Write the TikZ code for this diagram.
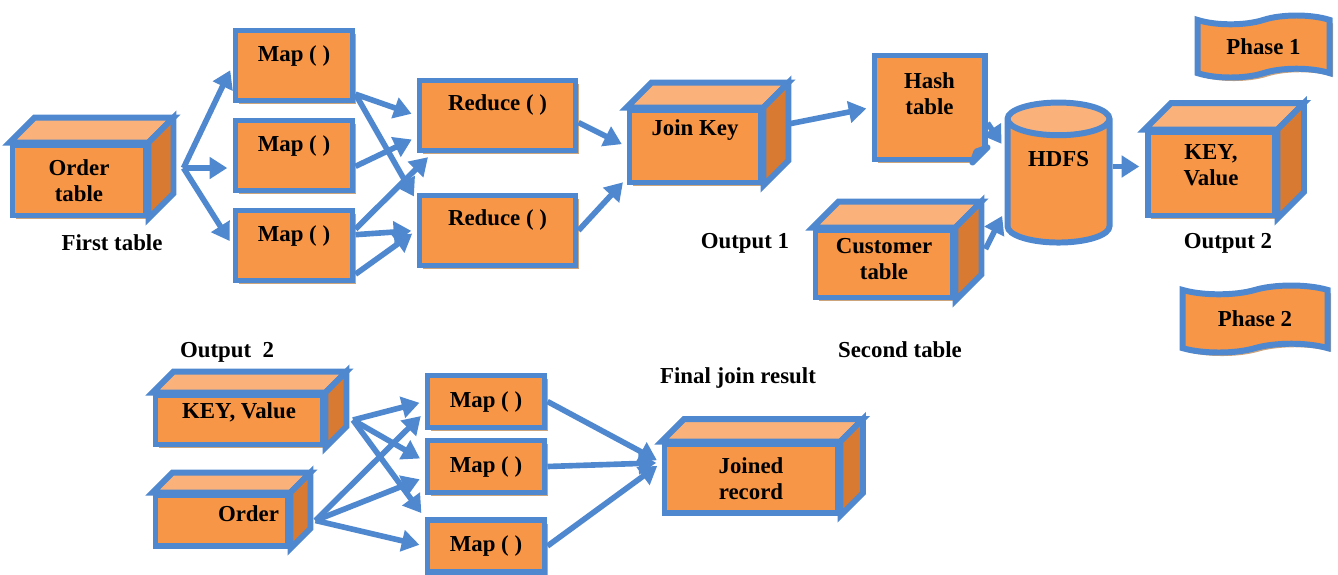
\documentclass[tikz,border=0pt]{standalone}
\usepackage{fontspec}
\setmainfont{Liberation Serif}
\usepackage{xcolor}
\usepackage{tikz}
\usetikzlibrary{shapes.geometric, shapes.symbols, arrows.meta, shadows}
\definecolor{org}{RGB}{247,150,70}
\definecolor{orgl}{RGB}{250,178,122}
\definecolor{orgd}{RGB}{216,122,50}
\definecolor{bord}{RGB}{79,136,206}
\definecolor{shd}{RGB}{205,165,125}
\newcommand{\bx}{\bfseries\fontsize{13}{14.5}\selectfont}
\tikzstyle{box} = [rectangle, inner sep=0pt, align=center, draw=bord, line width=3.4pt, fill=org, font=\bx, drop shadow={shadow xshift=2pt, shadow yshift=-2pt, fill=shd, opacity=1}]
\tikzstyle{mapbox} = [box, minimum width=2.34cm, minimum height=1.4cm, text depth=0.48cm]
\tikzstyle{redbox} = [box, minimum width=3.12cm, minimum height=1.4cm, text depth=0.5cm]
\tikzstyle{smallmap} = [box, minimum width=2.34cm, minimum height=1.04cm]
\tikzstyle{db} = [cylinder, shape border rotate=90, aspect=0.45, draw=bord, line width=3.4pt, cylinder uses custom fill, cylinder body fill=org, cylinder end fill=orgl, font=\bx]
\tikzstyle{flag} = [tape, tape bend top=in and out, tape bend bottom=in and out, draw=bord, line width=3.4pt, fill=org, font=\bx, drop shadow={shadow xshift=2pt, shadow yshift=-2pt, fill=shd, opacity=1}]
\tikzstyle{topface} = [draw=bord, line width=3.4pt, fill=orgl]
\tikzstyle{sideface} = [draw=bord, line width=3.4pt, fill=orgd]
\tikzstyle{lbl} = [font=\bx, inner sep=0pt]
\tikzstyle{arrow} = [line width=3.2pt, draw=bord, shorten >=3pt, -{Triangle[length=10pt,width=12pt]}]

\begin{document}
\begin{tikzpicture}[node distance=1.8cm]
\useasboundingbox (0,0) rectangle (26.76,-11.48);

% first phase
\node (ord) [box, minimum width=2.66cm, minimum height=1.4cm] at (1.58,-3.61) {Order\\table};
\node (ft) [lbl] at (2.24,-4.86) {First table};

\node (m1) [mapbox] at (5.88,-1.31) {Map ( )};
\node (m2) [mapbox, below of=m1] {Map ( )};
\node (m3) [mapbox, below of=m2] {Map ( )};

\node (r1) [redbox] at (9.95,-2.31) {Reduce ( )};
\node (r2) [redbox, below of=r1, node distance=2.3cm] {Reduce ( )};

\node (jk) [box, minimum width=2.62cm, minimum height=1.44cm, text depth=0.75cm] at (13.9,-2.93) {Join Key};
\node (o1) [lbl] at (14.9,-4.86) {Output 1};

\node (h) [box, minimum width=2.2cm, minimum height=2.08cm, text depth=0.56cm] at (18.59,-2.15) {Hash\\table};
\node (cust) [box, minimum width=2.74cm, minimum height=1.34cm, text depth=0.2cm] at (17.68,-5.28) {Customer\\table};
\node (st) [lbl] at (18.0,-7.0) {Second table};

\node (hdfs) [db, minimum width=2.04cm, minimum height=2.8cm, text depth=1.1cm] at (21.17,-3.72) {HDFS};

\node (kv) [box, minimum width=2.54cm, minimum height=1.66cm, text depth=0.36cm] at (24.22,-3.48) {KEY,\\Value};
\node (o2) [lbl] at (24.56,-4.86) {Output 2};

\node (p1) [flag, minimum width=2.64cm, minimum height=1.24cm] at (25.27,-0.93) {Phase 1};
\node (p2) [flag, minimum width=2.9cm, minimum height=1.34cm] at (25.1,-6.38) {Phase 2};

% second phase
\node (o2b) [lbl] at (4.54,-7.04) {Output\ \ 2};
\node (kv2) [box, minimum width=3.34cm, minimum height=0.98cm, text depth=0.37cm] at (4.78,-8.4) {KEY, Value};
\node (ord2) [box, minimum width=2.64cm, minimum height=1.0cm, text depth=0.26cm] at (4.43,-10.41) {\hspace*{1.08cm}Order};

\node (bm1) [smallmap] at (9.72,-8.03) {Map ( )};
\node (bm2) [smallmap] at (9.72,-9.33) {Map ( )};
\node (bm3) [smallmap] at (9.72,-10.92) {Map ( )};

\node (fjr) [lbl] at (14.76,-7.56) {Final join result};
\node (jr) [box, minimum width=3.46cm, minimum height=1.36cm] at (15.02,-9.57) {Joined\\record};

% cube faces
\foreach \n/\d in {ord/0.5, jk/0.5, kv/0.53, cust/0.52, kv2/0.42, ord2/0.4, jr/0.45} {
  \draw [topface] (\n.north west) -- ++(\d,\d) -- ([shift={(\d,\d)}]\n.north east) -- (\n.north east) -- cycle;
  \draw [sideface] (\n.north east) -- ++(\d,\d) -- ([shift={(\d,\d)}]\n.south east) -- (\n.south east) -- cycle;
}

% folded corner
\fill [white] ([xshift=-0.34cm]h.south east) -- ([shift={(0.14,-0.14)}]h.south east) -- ([yshift=0.34cm]h.south east) -- cycle;
\draw [sideface, line join=round] ([xshift=-0.3cm]h.south east) -- ([yshift=0.3cm]h.south east) -- ([shift={(-0.22,0.22)}]h.south east) -- cycle;

\coordinate (ordout) at ([shift={(0.7,0.25)}]ord.east);
\coordinate (jkout) at ([shift={(0.5,0.45)}]jk.east);
\coordinate (custout) at ([shift={(0.6,0.3)}]cust.east);
\coordinate (kv2out) at ([xshift=0.55cm]kv2.east);
\coordinate (ord2out) at ([xshift=0.5cm]ord2.east);

\draw [arrow] (ordout) -- (m1.west);
\draw [arrow] (ordout) -- (m2.west |- ordout);
\draw [arrow] (ordout) -- (m3.west);

\draw [arrow] (m1.-25) -- (r1.west);
\draw [arrow] (m1.-25) -- (r2.160);
\draw [arrow] (m2.-10) -- (r1.195);
\draw [arrow] (m3.15) -- (r1.210);
\draw [arrow] (m3.10) -- (r2.west);
\draw [arrow] (m3.-25) -- (r2.west);

\draw [arrow] (r1.-5) -- (jk.west);
\draw [arrow] (r2.east) -- (jk.205);
\draw [arrow] (jkout) -- (h.west);
\draw [arrow] (h.-15) -- (hdfs.145);
\draw [arrow] (custout) -- (hdfs.205);
\draw [arrow] ([yshift=0.15cm]kv.west -| hdfs.east) -- ([yshift=0.15cm]kv.west);

\draw [arrow] (kv2out) -- (bm1.west);
\draw [arrow] (kv2out) -- (bm2.175);
\draw [arrow] (kv2out) -- (bm3.155);
\draw [arrow] (ord2out) -- (bm1.190);
\draw [arrow] (ord2out) -- (bm2.190);
\draw [arrow] (ord2out) -- (bm3.west);

\draw [arrow] (bm1.east) -- (jr.170);
\draw [arrow] (bm2.east) -- (jr.170);
\draw [arrow] (bm3.east) -- (jr.170);

\end{tikzpicture}
\end{document}
